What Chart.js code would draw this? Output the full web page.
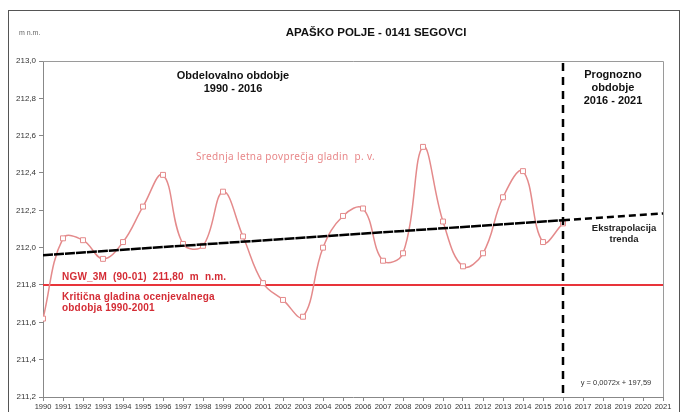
<!DOCTYPE html>
<html>
<head>
<meta charset="utf-8">
<script src="https://cdn.jsdelivr.net/npm/chart.js@4/dist/chart.umd.min.js"></script>
<style>
    html, body { margin: 0; padding: 0; background: #fff; }
    #wrap { width: 684px; height: 412px; position: relative; }
</style>
</head>
<body>
<div id="wrap"><canvas id="levelChart" width="684" height="412"></canvas></div>
<script>
// Podatki
const years = [1990, 1991, 1992, 1993, 1994, 1995, 1996, 1997, 1998, 1999, 2000,
    2001, 2002, 2003, 2004, 2005, 2006, 2007, 2008, 2009, 2010,
    2011, 2012, 2013, 2014, 2015, 2016];
const levels = [211.62, 212.05, 212.04, 211.94, 212.03, 212.22, 212.39, 212.02, 212.01, 212.30, 212.06,
    211.81, 211.72, 211.63, 212.00, 212.17, 212.21, 211.93, 211.97, 212.54, 212.14,
    211.90, 211.97, 212.27, 212.41, 212.03, 212.13];
const trendYears = [1990, 2016];
const trendValues = [211.96, 212.147];
const extrapYears = [2016, 2021];
const extrapValues = [212.147, 212.183];
const criticalLevel = 211.8;
const yTicks = [211.2, 211.4, 211.6, 211.8, 212.0, 212.2, 212.4, 212.6, 212.8, 213.0];
const forecastStart = 2016;

const toPoints = (xs, ys) => xs.map((x, i) => ({ x: x, y: ys[i] }));

// Besedila na grafu
const textPlugin = {
    id: 'texts',
    afterDraw(chart) {
        const ctx = chart.ctx;
        const area = chart.chartArea;
        const xs = chart.scales.x;
        ctx.save();

        // okvir
        ctx.strokeStyle = '#555';
        ctx.lineWidth = 1;
        ctx.strokeRect(8.5, 10.5, 671, 420);

        ctx.strokeStyle = '#9a9a9a';
        ctx.beginPath();
        ctx.moveTo(area.left, area.top + 0.5);
        ctx.lineTo(area.right + 0.5, area.top + 0.5);
        ctx.lineTo(area.right + 0.5, area.bottom);
        ctx.stroke();

        // navpicna crta prognoze
        const vx = xs.getPixelForValue(forecastStart);
        ctx.strokeStyle = '#000';
        ctx.lineWidth = 2.5;
        ctx.setLineDash([8, 6]);
        ctx.beginPath();
        ctx.moveTo(vx, area.top + 2);
        ctx.lineTo(vx, area.bottom + 2);
        ctx.stroke();
        ctx.setLineDash([]);

        ctx.textBaseline = 'middle';
        ctx.fillStyle = '#666';
        ctx.font = '7px "Liberation Sans", Arial, sans-serif';
        ctx.textAlign = 'left';
        ctx.fillText('m n.m.', 19, 33);

        ctx.fillStyle = '#111';
        ctx.textAlign = 'center';
        ctx.font = 'bold 11.5px "Liberation Sans", Arial, sans-serif';
        ctx.fillText('APAŠKO POLJE - 0141 SEGOVCI', 376, 33);

        ctx.font = 'bold 11px "Liberation Sans", Arial, sans-serif';
        ctx.fillText('Obdelovalno obdobje', 233, 76);
        ctx.fillText('1990 - 2016', 233, 89);
        ctx.fillText('Prognozno', 613, 75);
        ctx.fillText('obdobje', 613, 88);
        ctx.fillText('2016 - 2021', 613, 101);

        ctx.font = 'bold 9.5px "Liberation Sans", Arial, sans-serif';
        ctx.fillStyle = '#222';
        ctx.fillText('Ekstrapolacija', 624, 228);
        ctx.fillText('trenda', 624, 239);

        ctx.font = '7.5px "Liberation Sans", Arial, sans-serif';
        ctx.fillStyle = '#333';
        ctx.fillText('y = 0,0072x + 197,59', 616, 383);

        ctx.fillStyle = '#e8888a';
        ctx.font = '10px "Noto Sans", sans-serif';
        ctx.textAlign = 'left';
        ctx.letterSpacing = '0.35px';
        ctx.fillText('Srednja letna povprečja gladin  p. v.', 196, 157);
        ctx.letterSpacing = '0.2px';

        ctx.fillStyle = '#d42c35';
        ctx.font = 'bold 10px "Liberation Sans", Arial, sans-serif';
        ctx.fillText('NGW_3M  (90-01)  211,80  m  n.m.', 62, 277);
        ctx.fillText('Kritična gladina ocenjevalnega', 62, 297);
        ctx.fillText('obdobja 1990-2001', 62, 308);
        ctx.letterSpacing = '0px';
        ctx.restore();
    }
};

const ctx = document.getElementById('levelChart').getContext('2d');
new Chart(ctx, {
    type: 'line',
    data: {
        datasets: [
            {
                label: 'Kriticna gladina',
                data: toPoints([1990, 2021], [criticalLevel, criticalLevel]),
                borderColor: '#e8343a',
                borderWidth: 2,
                pointRadius: 0,
                order: 3
            },
            {
                label: 'Srednja letna povprecja',
                data: toPoints(years, levels),
                borderColor: '#e48a8b',
                borderWidth: 1.5,
                tension: 0.4,
                pointStyle: 'rect',
                pointRadius: 3.5,
                pointBorderWidth: 1,
                pointBorderColor: '#e48a8b',
                pointBackgroundColor: '#fff',
                order: 2
            },
            {
                label: 'Trend',
                data: toPoints(trendYears, trendValues),
                borderColor: '#000',
                borderWidth: 2.5,
                borderDash: [10, 1],
                pointRadius: 0,
                order: 1
            },
            {
                label: 'Ekstrapolacija',
                data: toPoints(extrapYears, extrapValues),
                borderColor: '#000',
                borderWidth: 2.5,
                borderDash: [7, 4],
                pointRadius: 0,
                order: 1
            }
        ]
    },
    options: {
        responsive: false,
        animation: false,
        layout: { padding: { top: 61, right: 21, left: 0, bottom: 0 } },
        plugins: {
            legend: { display: false },
            tooltip: { enabled: false }
        },
        scales: {
            x: {
                type: 'linear',
                min: 1990,
                max: 2021,
                afterFit: s => { s.height = 15; },
                ticks: {
                    stepSize: 1,
                    autoSkip: false,
                    maxRotation: 0,
                    padding: 1,
                    color: '#333',
                    font: { size: 7.5, family: '"Liberation Sans", Arial, sans-serif' },
                    callback: v => String(v)
                },
                grid: { drawOnChartArea: false, tickLength: 4, color: '#888' },
                border: { color: '#888' }
            },
            y: {
                min: 211.2,
                max: 213.0,
                afterFit: s => { s.width = 43; },
                afterBuildTicks: s => { s.ticks = yTicks.map(v => ({ value: v })); },
                ticks: {
                    padding: 3,
                    color: '#333',
                    font: { size: 8, family: '"Liberation Sans", Arial, sans-serif' },
                    callback: v => v.toFixed(1).replace('.', ',')
                },
                grid: { drawOnChartArea: false, tickLength: 4, color: '#888' },
                border: { color: '#888' }
            }
        }
    },
    plugins: [textPlugin]
});
</script>
</body>
</html>
